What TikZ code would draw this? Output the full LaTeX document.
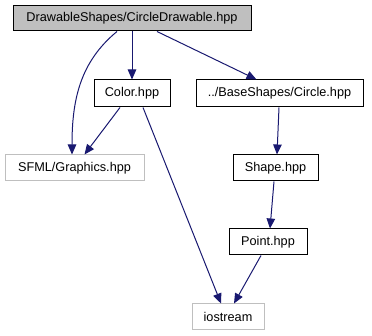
\documentclass[tikz,border=0pt]{standalone}
\usepackage{fontspec}
\setmainfont{Liberation Sans}
\usetikzlibrary{arrows.meta,calc}
\definecolor{edgeblue}{HTML}{191970}
\definecolor{boxgrey}{HTML}{BFBFBF}
\begin{document}
\begin{tikzpicture}[x=1pt,y=-1pt,
  file/.style={draw=black,fill=white,line width=1pt,inner sep=0pt,
    minimum height=26pt,font=\fontsize{12.7}{14}\selectfont},
  extfile/.style={file,draw=boxgrey},
  mainfile/.style={file,fill=boxgrey},
  dep/.style={draw=edgeblue,line width=1pt,
    -{Triangle[length=10pt,width=8.5pt]}}]
\useasboundingbox (0,0) rectangle (372,336);

\node[mainfile,minimum width=238pt,minimum height=25pt] (top) at (132,18.5) {DrawableShapes/CircleDrawable.hpp};
\node[file,minimum width=76pt,minimum height=27pt] (color) at (132,93.5) {Color.hpp};
\node[file,minimum width=167pt,minimum height=27pt] (circle) at (279.5,93.5) {../BaseShapes/Circle.hpp};
\node[extfile,minimum width=139pt] (sfml) at (74.5,168) {SFML/Graphics.hpp};
\node[file,minimum width=85pt] (shape) at (275.5,168) {Shape.hpp};
\node[file,minimum width=78pt] (point) at (268,242) {Point.hpp};
\node[extfile,minimum width=72pt] (ios) at (228,317) {iostream};

\draw[dep] ($(top.south)+(-15,0)$) .. controls (80,62) and (72,100) .. ($(sfml.north)+(-2.5,0)$);
\draw[dep] (top.south) -- (color.north);
\draw[dep] ($(top.south)+(25,0)$) -- ($(circle.north)+(-23,0)$);
\draw[dep] ($(color.south)+(-12,0)$) -- ($(sfml.north)+(10,0)$);
\draw[dep] ($(color.south)+(11,0)$) -- ($(ios.north)+(-7,0)$);
\draw[dep] ($(circle.south)+(-0.5,0)$) -- ($(shape.north)+(1.5,0)$);
\draw[dep] ($(shape.south)+(-1.5,0)$) -- ($(point.north)+(2,0)$);
\draw[dep] ($(point.south)+(-7,0)$) -- ($(ios.north)+(6,0)$);
\end{tikzpicture}
\end{document}
